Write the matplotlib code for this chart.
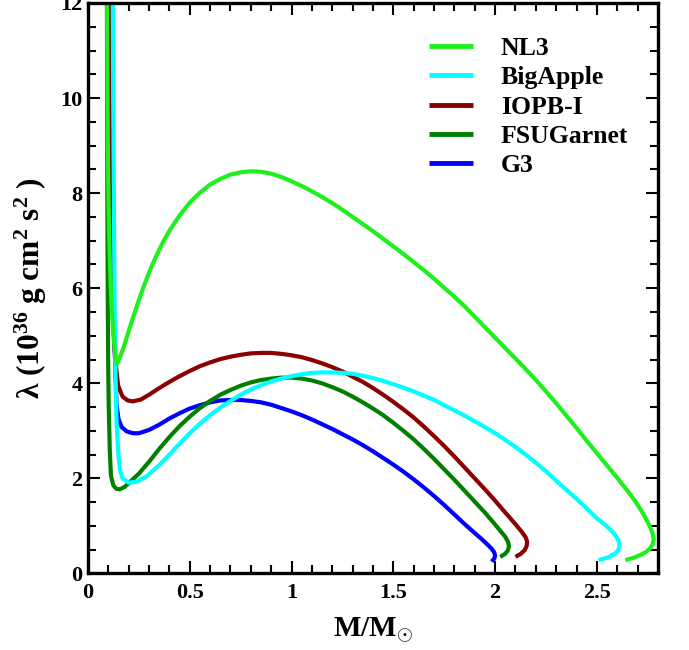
import matplotlib
matplotlib.use("Agg")
import matplotlib.pyplot as plt
from matplotlib.ticker import MultipleLocator

# Tidal deformability versus stellar mass for five relativistic mean-field models
nl3_mass = [0.093, 0.094, 0.096, 0.098, 0.103, 0.110, 0.116, 0.125, 0.133, 0.142,
            0.160, 0.180, 0.200, 0.225, 0.250, 0.275, 0.300, 0.325, 0.350, 0.375,
            0.400, 0.450, 0.500, 0.550, 0.600, 0.650, 0.700, 0.750, 0.800, 0.850,
            0.900, 0.950, 1.000, 1.050, 1.100, 1.150, 1.200, 1.250, 1.300, 1.350,
            1.400, 1.450, 1.500, 1.550, 1.600, 1.650, 1.700, 1.750, 1.800, 1.850,
            1.900, 1.950, 2.000, 2.050, 2.100, 2.150, 2.200, 2.250, 2.300, 2.350,
            2.400, 2.450, 2.500, 2.550, 2.600, 2.650, 2.690, 2.720, 2.745, 2.763,
            2.775, 2.779, 2.774, 2.762, 2.740, 2.714, 2.680, 2.640]
nl3_lambda = [13.0, 12.0, 10.0, 8.8, 7.25, 6.2, 5.6, 5.0, 4.65, 4.40,
              4.58, 4.82, 5.10, 5.43, 5.75, 6.05, 6.33, 6.58, 6.81, 7.02,
              7.21, 7.53, 7.80, 8.01, 8.18, 8.30, 8.39, 8.44, 8.46, 8.45,
              8.41, 8.34, 8.25, 8.15, 8.04, 7.92, 7.79, 7.65, 7.50, 7.35,
              7.20, 7.04, 6.88, 6.72, 6.55, 6.38, 6.20, 6.01, 5.82, 5.62,
              5.40, 5.18, 4.96, 4.74, 4.52, 4.30, 4.07, 3.83, 3.58, 3.32,
              3.06, 2.79, 2.53, 2.27, 2.01, 1.74, 1.51, 1.31, 1.12, 0.96,
              0.82, 0.72, 0.62, 0.53, 0.45, 0.39, 0.33, 0.28]

bigapple_mass = [0.120, 0.122, 0.124, 0.127, 0.130, 0.134, 0.140, 0.148, 0.156, 0.170,
                 0.200, 0.240, 0.290, 0.350, 0.400, 0.450, 0.500, 0.550, 0.600, 0.650,
                 0.700, 0.750, 0.800, 0.850, 0.900, 0.950, 1.000, 1.050, 1.100, 1.150,
                 1.200, 1.250, 1.300, 1.350, 1.400, 1.450, 1.500, 1.550, 1.600, 1.650,
                 1.700, 1.750, 1.800, 1.850, 1.900, 1.950, 2.000, 2.050, 2.100, 2.150,
                 2.200, 2.250, 2.300, 2.350, 2.400, 2.450, 2.500, 2.550, 2.583, 2.603,
                 2.612, 2.605, 2.590, 2.555, 2.508]
bigapple_lambda = [13.0, 12.0, 10.0, 8.0, 6.0, 4.5, 3.2, 2.6, 2.2, 2.0,
                   1.91, 1.93, 2.05, 2.28, 2.50, 2.73, 2.95, 3.15, 3.33, 3.49,
                   3.63, 3.76, 3.87, 3.96, 4.04, 4.10, 4.15, 4.19, 4.22, 4.23,
                   4.23, 4.22, 4.20, 4.16, 4.11, 4.05, 3.98, 3.91, 3.83, 3.74,
                   3.65, 3.54, 3.43, 3.32, 3.20, 3.08, 2.95, 2.81, 2.66, 2.50,
                   2.33, 2.15, 1.95, 1.76, 1.57, 1.37, 1.16, 0.99, 0.85, 0.72,
                   0.60, 0.49, 0.42, 0.34, 0.28]

iopb_mass = [0.100, 0.103, 0.106, 0.110, 0.116, 0.124, 0.135, 0.148, 0.170, 0.195,
             0.220, 0.260, 0.300, 0.350, 0.400, 0.450, 0.500, 0.550, 0.600, 0.650,
             0.700, 0.750, 0.800, 0.850, 0.900, 0.950, 1.000, 1.050, 1.100, 1.150,
             1.200, 1.250, 1.300, 1.350, 1.400, 1.450, 1.500, 1.550, 1.600, 1.650,
             1.700, 1.750, 1.800, 1.850, 1.900, 1.950, 2.000, 2.040, 2.075, 2.105,
             2.132, 2.150, 2.157, 2.155, 2.145, 2.125, 2.100]
iopb_lambda = [13.0, 12.0, 10.0, 8.0, 6.5, 5.3, 4.45, 3.95, 3.72, 3.64,
               3.62, 3.66, 3.76, 3.90, 4.03, 4.15, 4.26, 4.36, 4.44, 4.51,
               4.56, 4.60, 4.63, 4.64, 4.64, 4.62, 4.59, 4.55, 4.49, 4.42,
               4.34, 4.25, 4.14, 4.03, 3.90, 3.76, 3.61, 3.45, 3.28, 3.09,
               2.89, 2.68, 2.46, 2.23, 2.00, 1.77, 1.53, 1.33, 1.16, 1.01,
               0.87, 0.76, 0.67, 0.58, 0.49, 0.41, 0.35]

fsu_mass = [0.092, 0.093, 0.094, 0.095, 0.097, 0.099, 0.102, 0.107, 0.113, 0.125,
            0.140, 0.156, 0.180, 0.205, 0.250, 0.300, 0.350, 0.400, 0.450, 0.500,
            0.550, 0.600, 0.650, 0.700, 0.750, 0.800, 0.850, 0.900, 0.950, 1.000,
            1.050, 1.100, 1.150, 1.200, 1.250, 1.300, 1.350, 1.400, 1.450, 1.500,
            1.550, 1.600, 1.650, 1.700, 1.750, 1.800, 1.850, 1.900, 1.950, 1.990,
            2.025, 2.050, 2.064, 2.068, 2.062, 2.048, 2.025]
fsu_lambda = [13.0, 12.0, 10.0, 8.0, 6.0, 4.5, 3.5, 2.6, 2.05, 1.85,
              1.78, 1.77, 1.82, 1.92, 2.10, 2.35, 2.62, 2.87, 3.10, 3.30,
              3.48, 3.63, 3.76, 3.86, 3.95, 4.02, 4.07, 4.10, 4.12, 4.12,
              4.10, 4.06, 4.00, 3.92, 3.83, 3.72, 3.60, 3.47, 3.33, 3.17,
              3.00, 2.82, 2.62, 2.41, 2.19, 1.97, 1.74, 1.51, 1.28, 1.08,
              0.90, 0.77, 0.66, 0.57, 0.48, 0.41, 0.35]

g3_mass = [0.100, 0.103, 0.106, 0.110, 0.116, 0.124, 0.133, 0.140, 0.150, 0.165,
           0.190, 0.220, 0.250, 0.300, 0.350, 0.400, 0.450, 0.500, 0.550, 0.600,
           0.650, 0.700, 0.750, 0.800, 0.850, 0.900, 0.950, 1.000, 1.050, 1.100,
           1.150, 1.200, 1.250, 1.300, 1.350, 1.400, 1.450, 1.500, 1.550, 1.600,
           1.650, 1.700, 1.750, 1.800, 1.850, 1.900, 1.935, 1.962, 1.983, 1.996,
           2.000, 1.995, 1.983]
g3_lambda = [13.0, 12.0, 10.0, 8.0, 6.5, 5.3, 4.5, 3.55, 3.25, 3.08,
             2.99, 2.95, 2.95, 3.02, 3.13, 3.26, 3.37, 3.47, 3.54, 3.60,
             3.64, 3.65, 3.65, 3.63, 3.60, 3.55, 3.48, 3.41, 3.33, 3.24,
             3.14, 3.04, 2.93, 2.82, 2.70, 2.57, 2.43, 2.29, 2.14, 1.98,
             1.81, 1.63, 1.44, 1.24, 1.04, 0.85, 0.72, 0.61, 0.52, 0.44,
             0.37, 0.31, 0.25]

models = ["NL3", "BigApple", "IOPB-I", "FSUGarnet", "G3"]
colors = ["#1ef01e", "#00ffff", "#8b0000", "#008000", "#0000ff"]
masses = [nl3_mass, bigapple_mass, iopb_mass, fsu_mass, g3_mass]
lambdas = [nl3_lambda, bigapple_lambda, iopb_lambda, fsu_lambda, g3_lambda]

plt.rcParams["font.family"] = ["Liberation Serif", "DejaVu Serif"]
plt.rcParams["font.weight"] = "bold"
plt.rcParams["axes.labelweight"] = "bold"
plt.rcParams["mathtext.fontset"] = "custom"
plt.rcParams["mathtext.rm"] = "Liberation Serif:bold"
plt.rcParams["mathtext.bf"] = "Liberation Serif:bold"
plt.rcParams["mathtext.it"] = "Liberation Serif:bold:italic"
plt.rcParams["mathtext.default"] = "bf"

fig = plt.figure(figsize=(6.89, 6.5), dpi=100)
ax = fig.add_axes([0.1277, 0.1177, 0.8273, 0.8777])

handles = {}
for name, col, m, lam in reversed(list(zip(models, colors, masses, lambdas))):
    line, = ax.plot(m, lam, color=col, lw=3.0, solid_joinstyle="round",
                    solid_capstyle="butt", label=name)
    handles[name] = line

ax.set_xlim(0, 2.8)
ax.set_ylim(0, 12)
ax.xaxis.set_major_locator(MultipleLocator(0.5))
ax.xaxis.set_minor_locator(MultipleLocator(0.1))
ax.yaxis.set_major_locator(MultipleLocator(2))
ax.yaxis.set_minor_locator(MultipleLocator(0.5))
ax.set_xticks([0, 0.5, 1, 1.5, 2, 2.5])
ax.set_xticklabels(["0", "0.5", "1", "1.5", "2", "2.5"])

ax.tick_params(which="both", direction="in", top=True, right=True, width=1.5)
ax.tick_params(which="major", length=8.5, labelsize=16)
ax.tick_params(axis="x", which="major", pad=7)
ax.tick_params(axis="y", which="major", pad=4)
ax.tick_params(which="minor", length=5.5)
for s in ax.spines.values():
    s.set_linewidth(2.4)

ax.set_xlabel(r"M/M$_{\odot}$", fontsize=21, labelpad=9)
ax.set_ylabel(r"λ (10$^{36}$ g cm$^{2}$ s$^{2}$ )", fontsize=22.5, labelpad=8)

leg = ax.legend([handles[n] for n in models], models, loc="upper left",
                bbox_to_anchor=(0.598, 0.94), frameon=False, fontsize=18.5,
                handlelength=1.7, handletextpad=1.1, labelspacing=0.24,
                borderpad=0, borderaxespad=0)
for l in leg.get_lines():
    l.set_linewidth(3.5)

fig.savefig("out.png", dpi=100)
